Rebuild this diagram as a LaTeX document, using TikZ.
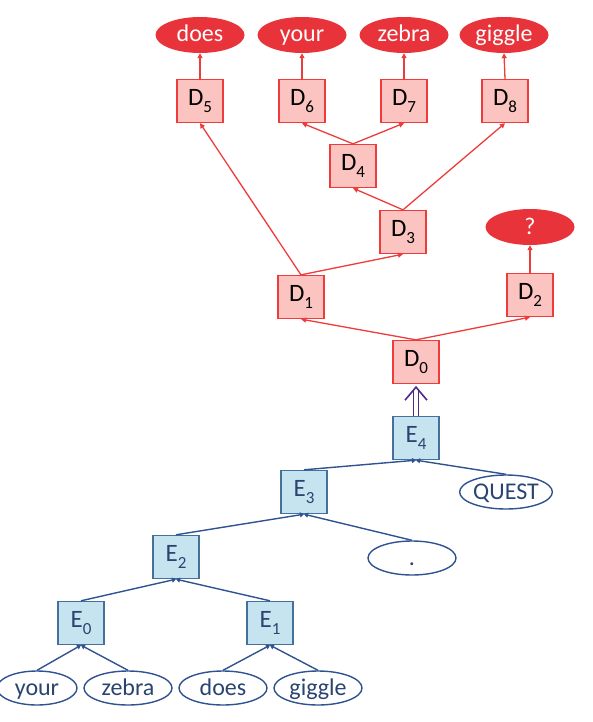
\documentclass[tikz,border=0pt]{standalone}
\usepackage{fontspec}
\setmainfont{Carlito}
\usetikzlibrary{arrows.meta,shapes.geometric}
\definecolor{redfill}{HTML}{E8333A}
\definecolor{dfill}{HTML}{FBC4C0}
\definecolor{dline}{HTML}{EE3B3B}
\definecolor{efill}{HTML}{C5E4EF}
\definecolor{eline}{HTML}{44709A}
\definecolor{etext}{HTML}{2A4470}
\definecolor{bline}{HTML}{2F5291}
\definecolor{purp}{HTML}{4E2A84}
\newcommand\dsub[1]{\raisebox{-0.28em}{\fontsize{17}{17}\selectfont #1}}
\tikzset{
  dbox/.style={draw=dline, fill=dfill, line width=1.3pt, minimum width=46pt, minimum height=43pt, inner sep=0pt, font=\fontsize{25}{25}\selectfont, text=black},
  rell/.style={ellipse, fill=redfill, minimum width=89pt, minimum height=36pt, inner sep=0pt, text=white, font=\fontsize{24}{24}\selectfont, text height=18pt, text depth=4pt},
  ebox/.style={draw=eline, fill=efill, line width=1.4pt, minimum width=46pt, minimum height=43pt, inner sep=0pt, font=\fontsize{25}{25}\selectfont, text=etext},
  bell/.style={ellipse, draw=bline, line width=1.4pt, minimum width=88pt, minimum height=34pt, inner sep=0pt, text=etext, font=\fontsize{24}{24}\selectfont, text height=18pt, text depth=4pt},
  redarr/.style={draw=dline, line width=1.3pt, -{Triangle[length=5pt,width=5pt]}},
  bluearr/.style={draw=bline, line width=1.4pt, -{Triangle[length=4pt,width=5pt]}},
}
\begin{document}
\begin{tikzpicture}[x=1pt,y=-1pt]
\useasboundingbox (0,0) rectangle (593,722);
% red top ellipses
\node[rell] (wdoes) at (200,35) {does};
\node[rell] (wyour) at (302,35) {your};
\node[rell] (wzebra) at (404,35) {zebra};
\node[rell] (wgiggle) at (504,35) {giggle};
\node[rell] (wq) at (530,227) {?};
% D boxes
\node[dbox] (D5) at (200,101) {D\dsub{5}};
\node[dbox] (D6) at (302,101) {D\dsub{6}};
\node[dbox] (D7) at (404,101) {D\dsub{7}};
\node[dbox] (D8) at (505,101) {D\dsub{8}};
\node[dbox] (D4) at (353,166) {D\dsub{4}};
\node[dbox] (D3) at (403,232) {D\dsub{3}};
\node[dbox] (D1) at (301,297) {D\dsub{1}};
\node[dbox] (D2) at (530,295) {D\dsub{2}};
\node[dbox] (D0) at (416,362) {D\dsub{0}};
% E boxes
\node[ebox] (E4) at (416,438) {E\dsub{4}};
\node[ebox] (E3) at (304,492) {E\dsub{3}};
\node[ebox] (E2) at (176,557) {E\dsub{2}};
\node[ebox] (E0) at (81,623) {E\dsub{0}};
\node[ebox] (E1) at (270,623) {E\dsub{1}};
% blue ellipses
\node[bell] (bquest) at (506,492) {QUEST};
\node[bell] (bdot) at (412,558) {.};
\node[bell, minimum width=80pt] (byour) at (37,688) {your};
\node[bell] (bzebra) at (128,688) {zebra};
\node[bell] (bdoes) at (223,688) {does};
\node[bell] (bgiggle) at (318,688) {giggle};
% red arrows
\draw[redarr] (D0.north) -- (D1.south);
\draw[redarr] (D0.north) -- (D2.south);
\draw[redarr] (D2.north) -- (wq.south);
\draw[redarr] (D1.north) -- (D3.south);
\draw[redarr] (D1.north) -- (D5.south);
\draw[redarr] (D3.north) -- (D4.south);
\draw[redarr] (D3.north) -- (D8.south);
\draw[redarr] (D4.north) -- (D6.south);
\draw[redarr] (D4.north) -- (D7.south);
\draw[redarr] (D5.north) -- (wdoes.south);
\draw[redarr] (D6.north) -- (wyour.south);
\draw[redarr] (D7.north) -- (wzebra.south);
\draw[redarr] (D8.north) -- (wgiggle.south);
% double arrow
\coordinate (tip) at ([yshift=-3pt]D0.south);
\draw[purp, line width=1.3pt, double=white, double distance=3.5pt] (E4.north) -- ([yshift=-2pt]tip);
\draw[purp, line width=1.6pt, line join=miter] ([xshift=-11pt,yshift=-13pt]tip) -- (tip) -- ([xshift=11pt,yshift=-13pt]tip);
% blue arrows
\draw[bluearr] (E3.north) -- (E4.south);
\draw[bluearr] (bquest.north) -- (E4.south);
\draw[bluearr] (E2.north) -- (E3.south);
\draw[bluearr] (bdot.north) -- (E3.south);
\draw[bluearr] (E0.north) -- (E2.south);
\draw[bluearr] (E1.north) -- (E2.south);
\draw[bluearr] (byour.north) -- (E0.south);
\draw[bluearr] (bzebra.north) -- (E0.south);
\draw[bluearr] (bdoes.north) -- (E1.south);
\draw[bluearr] (bgiggle.north) -- (E1.south);
\end{tikzpicture}
\end{document}
